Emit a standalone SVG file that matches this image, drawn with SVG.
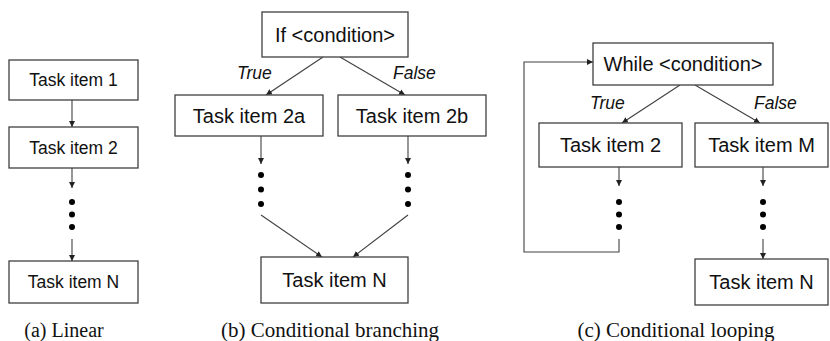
<svg xmlns="http://www.w3.org/2000/svg" width="830" height="341" viewBox="0 0 830 341">
<style>
.box{fill:#fff;stroke:#404040;stroke-width:1.3}
.t{font-family:"Liberation Sans",Arial,sans-serif;fill:#111;text-anchor:middle;dominant-baseline:central}
.ta{font-size:17.5px}
.tb{font-size:20px}
.lbl{font-family:"Liberation Sans",Arial,sans-serif;font-style:italic;font-size:17.5px;fill:#111}
.cap{font-family:"Liberation Serif","Times New Roman",serif;font-size:20px;fill:#111;text-anchor:middle}
.capw{font-size:21px}
.ln{fill:none;stroke:#404040;stroke-width:1.1}
.dot{fill:#000}
</style>
<defs>
<marker id="ah" viewBox="0 0 10 10" refX="10" refY="5" markerWidth="6" markerHeight="6" orient="auto" markerUnits="userSpaceOnUse">
<path d="M0,0 L10,5 L0,10 z" fill="#222"/>
</marker>
</defs>
<g id="connectors">
<line class="ln" x1="72" y1="100" x2="72" y2="127" marker-end="url(#ah)"/>
<line class="ln" x1="72" y1="168" x2="72" y2="188" marker-end="url(#ah)"/>
<line class="ln" x1="72" y1="239" x2="72" y2="261" marker-end="url(#ah)"/>
<line class="ln" x1="323" y1="57" x2="266" y2="95" marker-end="url(#ah)"/>
<line class="ln" x1="340" y1="57" x2="405" y2="95" marker-end="url(#ah)"/>
<line class="ln" x1="261" y1="136" x2="261" y2="164" marker-end="url(#ah)"/>
<line class="ln" x1="408" y1="136" x2="408" y2="164" marker-end="url(#ah)"/>
<line class="ln" x1="261" y1="215" x2="322" y2="257" marker-end="url(#ah)"/>
<line class="ln" x1="408" y1="215" x2="353" y2="257" marker-end="url(#ah)"/>
<line class="ln" x1="680" y1="85" x2="622" y2="123" marker-end="url(#ah)"/>
<line class="ln" x1="695" y1="85" x2="760" y2="123" marker-end="url(#ah)"/>
<line class="ln" x1="619" y1="167" x2="619" y2="186" marker-end="url(#ah)"/>
<line class="ln" x1="763" y1="167" x2="763" y2="186" marker-end="url(#ah)"/>
<polyline class="ln" points="619,239 619,252 524,252 524,62 593,62" marker-end="url(#ah)"/>
<line class="ln" x1="763" y1="239" x2="763" y2="259" marker-end="url(#ah)"/>
<g id="dots">
<circle class="dot" cx="72" cy="202" r="3"/><circle class="dot" cx="72" cy="214.5" r="3"/><circle class="dot" cx="72" cy="227" r="3"/>
<circle class="dot" cx="261" cy="175" r="3"/><circle class="dot" cx="261" cy="189.5" r="3"/><circle class="dot" cx="261" cy="204" r="3"/>
<circle class="dot" cx="408" cy="175" r="3"/><circle class="dot" cx="408" cy="189.5" r="3"/><circle class="dot" cx="408" cy="204" r="3"/>
<circle class="dot" cx="619" cy="202" r="3"/><circle class="dot" cx="619" cy="214.5" r="3"/><circle class="dot" cx="619" cy="227" r="3"/>
<circle class="dot" cx="763" cy="202" r="3"/><circle class="dot" cx="763" cy="214.5" r="3"/><circle class="dot" cx="763" cy="227" r="3"/>
</g>
<text class="lbl" x="237" y="79">True</text>
<text class="lbl" x="393" y="79">False</text>
<text class="lbl" x="590" y="109">True</text>
<text class="lbl" x="754" y="109">False</text>
</g>
<g id="a-task1"><rect class="box" x="9" y="60" width="129" height="40"/><text class="t ta" x="73.5" y="80">Task item 1</text></g>
<g id="a-task2"><rect class="box" x="9" y="127" width="129" height="41"/><text class="t ta" x="73.5" y="147.5">Task item 2</text></g>
<g id="a-taskN"><rect class="box" x="9" y="261" width="129" height="42"/><text class="t ta" x="73.5" y="282">Task item N</text></g>
<g id="b-if"><rect class="box" x="262" y="12" width="146" height="45"/><text class="t tb" x="335" y="34.5">If &lt;condition&gt;</text></g>
<g id="b-task2a"><rect class="box" x="175" y="95" width="148" height="41"/><text class="t tb" x="249" y="115.5">Task item 2a</text></g>
<g id="b-task2b"><rect class="box" x="338" y="95" width="148" height="41"/><text class="t tb" x="412" y="115.5">Task item 2b</text></g>
<g id="b-taskN"><rect class="box" x="261" y="257" width="147" height="46"/><text class="t tb" x="334.5" y="280">Task item N</text></g>
<g id="c-while"><rect class="box" x="593" y="43" width="180" height="42"/><text class="t tb" x="683" y="64">While &lt;condition&gt;</text></g>
<g id="c-task2"><rect class="box" x="539" y="123" width="143" height="44"/><text class="t tb" x="610.5" y="145">Task item 2</text></g>
<g id="c-taskM"><rect class="box" x="695" y="123" width="133" height="44"/><text class="t tb" x="761.5" y="145">Task item M</text></g>
<g id="c-taskN"><rect class="box" x="695" y="259" width="133" height="46"/><text class="t tb" x="761.5" y="282">Task item N</text></g>
<g id="captions">
<text class="cap" x="64" y="337">(a)  Linear</text>
<text class="cap capw" x="330" y="337">(b)  Conditional branching</text>
<text class="cap capw" x="676" y="337">(c)  Conditional looping</text>
</g>
</svg>
